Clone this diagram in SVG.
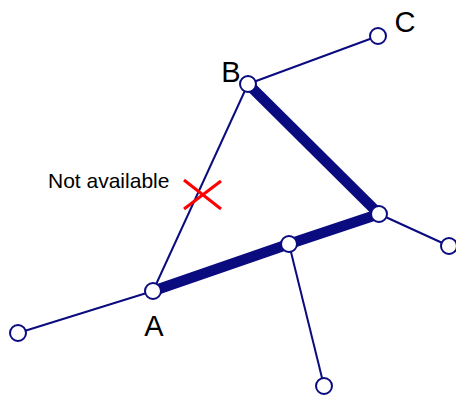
<svg xmlns="http://www.w3.org/2000/svg" width="456" height="395" viewBox="0 0 456 395">
<style>
.thin{stroke:#0b0b80;stroke-width:2;fill:none}
.thick{stroke:#0b0b80;stroke-width:10.5;fill:none}
.node{fill:#fff;stroke:#0b0b80;stroke-width:2}
.lbl{font-family:"Liberation Sans",Arial,sans-serif;fill:#000}
.x{stroke:#f00;stroke-width:3}
</style>
<rect width="456" height="395" fill="#fff"/>
<g id="connectors">
<line class="thin" x1="248" y1="84" x2="378" y2="36"/>
<line class="thin" x1="248" y1="84" x2="153" y2="291"/>
<line class="thin" x1="153" y1="291" x2="18" y2="333"/>
<line class="thin" x1="379" y1="214" x2="449" y2="246"/>
<line class="thin" x1="289" y1="244" x2="324" y2="386"/>
<line class="thick" x1="248" y1="84" x2="379" y2="214"/>
<line class="thick" x1="153" y1="291" x2="289" y2="244"/>
<line class="thick" x1="289" y1="244" x2="379" y2="214"/>
</g>
<g id="unavailable">
<line class="x" x1="184" y1="180" x2="221" y2="209"/>
<line class="x" x1="184" y1="209" x2="221" y2="181"/>
<text class="lbl" x="48" y="188" font-size="21">Not available</text>
</g>
<g id="nodeA"><circle class="node" cx="153" cy="291" r="8"/><text class="lbl" x="154" y="336" font-size="29" text-anchor="middle">A</text></g>
<g id="nodeB"><circle class="node" cx="248" cy="84" r="8"/><text class="lbl" x="231" y="82" font-size="29" text-anchor="middle">B</text></g>
<g id="nodeC"><circle class="node" cx="378" cy="36" r="8"/><text class="lbl" x="405" y="32" font-size="29" text-anchor="middle">C</text></g>
<g id="nodeD"><circle class="node" cx="379" cy="214" r="8"/></g>
<g id="nodeE"><circle class="node" cx="289" cy="244" r="8"/></g>
<g id="nodeF"><circle class="node" cx="18" cy="333" r="8"/></g>
<g id="nodeG"><circle class="node" cx="449" cy="246" r="8"/></g>
<g id="nodeH"><circle class="node" cx="324" cy="386" r="8"/></g>
</svg>
